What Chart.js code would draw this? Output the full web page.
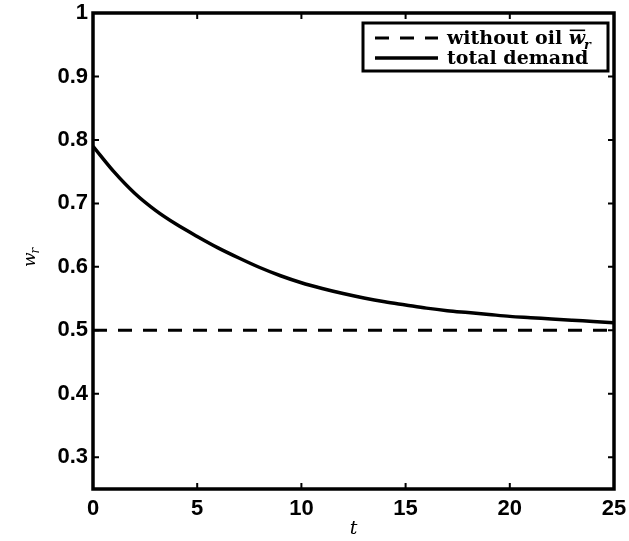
<!DOCTYPE html>
<html>
<head>
<meta charset="utf-8">
<script src="https://cdn.jsdelivr.net/npm/chart.js@4.4.1/dist/chart.umd.min.js"></script>
<style>
  html, body { margin: 0; padding: 0; background: #fff; }
  #wrap { width: 629px; height: 541px; }
</style>
</head>
<body>
<div id="wrap"><canvas id="wrChart" width="629" height="541"></canvas></div>
<script>
// w_r over time: total demand vs. the no-oil level
const tValues = [0, 1, 2, 3, 4, 5, 6, 7, 8, 9, 10, 11, 12, 13, 14, 15, 16, 17, 18, 19, 20, 21, 22, 23, 24, 25];
const totalDemand = [0.790, 0.750, 0.716, 0.689, 0.667, 0.648, 0.630, 0.614, 0.599, 0.586, 0.575,
                     0.566, 0.558, 0.551, 0.545, 0.540, 0.535, 0.531, 0.528, 0.525, 0.522,
                     0.520, 0.518, 0.516, 0.514, 0.512];
const withoutOilT = [0, 25];
const withoutOil = [0.5, 0.5];

const xTicks = [0, 5, 10, 15, 20, 25];
const yTicks = [0.3, 0.4, 0.5, 0.6, 0.7, 0.8, 0.9, 1];
const yTickLabels = ['0.3', '0.4', '0.5', '0.6', '0.7', '0.8', '0.9', '1'];

const toPoints = (xs, ys) => xs.map((x, i) => ({ x: x, y: ys[i] }));

const tickFont = { family: 'Liberation Sans', weight: 'bold', size: 22 };

// draws italic w with a bar and subscript r
function drawWr(ctx, x, y, size, weight, bar) {
    ctx.save();
    ctx.textAlign = 'left';
    ctx.textBaseline = 'alphabetic';
    ctx.font = 'italic ' + weight + ' ' + size + 'px "DejaVu Serif"';
    const ww = ctx.measureText('w').width;
    ctx.fillText('w', x, y);
    if (bar) {
        ctx.lineWidth = Math.max(1, size / 12);
        ctx.beginPath();
        ctx.moveTo(x + 1, y - size * 0.72);
        ctx.lineTo(x + ww, y - size * 0.72);
        ctx.stroke();
    }
    ctx.font = 'italic ' + weight + ' ' + Math.round(size * 0.7) + 'px "DejaVu Serif"';
    ctx.fillText('r', x + ww - 1, y + size * 0.25);
    const total = ww - 1 + ctx.measureText('r').width;
    ctx.restore();
    return total;
}

// box, inward ticks on all sides, axis titles and legend
const framePlugin = {
    id: 'frame',
    afterDraw(chart) {
        const ctx = chart.ctx;
        const a = chart.chartArea;
        const xs = chart.scales.x;
        const ys = chart.scales.y;
        ctx.save();
        ctx.strokeStyle = '#000';
        ctx.fillStyle = '#000';

        // inward tick marks
        ctx.lineWidth = 2;
        ctx.beginPath();
        xTicks.forEach(v => {
            const px = xs.getPixelForValue(v);
            ctx.moveTo(px, a.bottom); ctx.lineTo(px, a.bottom - 6);
            ctx.moveTo(px, a.top); ctx.lineTo(px, a.top + 6);
        });
        yTicks.forEach(v => {
            const py = ys.getPixelForValue(v);
            ctx.moveTo(a.left, py); ctx.lineTo(a.left + 6, py);
            ctx.moveTo(a.right, py); ctx.lineTo(a.right - 6, py);
        });
        ctx.stroke();

        // axes box
        ctx.lineWidth = 3.5;
        ctx.strokeRect(a.left, a.top, a.right - a.left, a.bottom - a.top);

        // x title
        ctx.font = 'italic 19px "DejaVu Serif"';
        ctx.textAlign = 'center';
        ctx.textBaseline = 'middle';
        ctx.fillText('t', (a.left + a.right) / 2, 529);

        // y title, rotated
        ctx.save();
        ctx.translate(35, (a.top + a.bottom) / 2 + 6);
        ctx.rotate(-Math.PI / 2);
        drawWr(ctx, -10, 0, 17, 'normal', false);
        ctx.restore();

        // legend
        const lx = 363, ly = 23, lw = 245, lh = 48;
        ctx.fillStyle = '#fff';
        ctx.fillRect(lx, ly, lw, lh);
        ctx.lineWidth = 3;
        ctx.strokeRect(lx, ly, lw, lh);
        const ds = chart.data.datasets;
        const rows = [ly + 15, ly + 35];
        ds.forEach((d, i) => {
            const y = rows[i];
            ctx.strokeStyle = '#000';
            ctx.lineWidth = d.borderWidth;
            ctx.setLineDash(d.borderDash || []);
            ctx.beginPath();
            ctx.moveTo(lx + 12, y);
            ctx.lineTo(lx + 75, y);
            ctx.stroke();
            ctx.setLineDash([]);
            ctx.fillStyle = '#000';
            ctx.font = 'bold 19px "DejaVu Serif"';
            ctx.textAlign = 'left';
            ctx.textBaseline = 'alphabetic';
            ctx.fillText(d.label, lx + 84, y + 6);
            if (i === 0) {
                const w = ctx.measureText(d.label + ' ').width;
                drawWr(ctx, lx + 84 + w, y + 6, 19, 'bold', true);
            }
        });
        ctx.restore();
    }
};

new Chart(document.getElementById('wrChart'), {
    type: 'line',
    data: {
        datasets: [{
            label: 'without oil',
            data: toPoints(withoutOilT, withoutOil),
            borderColor: '#000',
            borderWidth: 3,
            borderDash: [14, 11],
            pointRadius: 0,
            fill: false
        }, {
            label: 'total demand',
            data: toPoints(tValues, totalDemand),
            borderColor: '#000',
            borderWidth: 3.5,
            cubicInterpolationMode: 'monotone',
            pointRadius: 0,
            fill: false
        }]
    },
    options: {
        responsive: false,
        animation: false,
        layout: { padding: { top: 13, right: 15, left: 0, bottom: 0 } },
        plugins: {
            legend: { display: false },
            tooltip: { enabled: false }
        },
        scales: {
            x: {
                type: 'linear',
                min: 0,
                max: 25,
                afterBuildTicks: s => { s.ticks = xTicks.map(v => ({ value: v })); },
                afterFit: s => { s.height = 52; s.paddingLeft = 0; s.paddingRight = 0; },
                grid: { display: false, drawTicks: false },
                border: { display: false },
                ticks: {
                    color: '#000',
                    font: tickFont,
                    padding: 7,
                    maxRotation: 0,
                    callback: v => String(v)
                }
            },
            y: {
                type: 'linear',
                min: 0.25,
                max: 1,
                afterBuildTicks: s => { s.ticks = yTicks.map(v => ({ value: v })); },
                afterFit: s => { s.width = 93; s.paddingTop = 0; s.paddingBottom = 0; },
                grid: { display: false, drawTicks: false },
                border: { display: false },
                ticks: {
                    color: '#000',
                    font: tickFont,
                    padding: 5,
                    callback: (v) => yTickLabels[yTicks.indexOf(v)]
                }
            }
        }
    },
    plugins: [framePlugin]
});
</script>
</body>
</html>
